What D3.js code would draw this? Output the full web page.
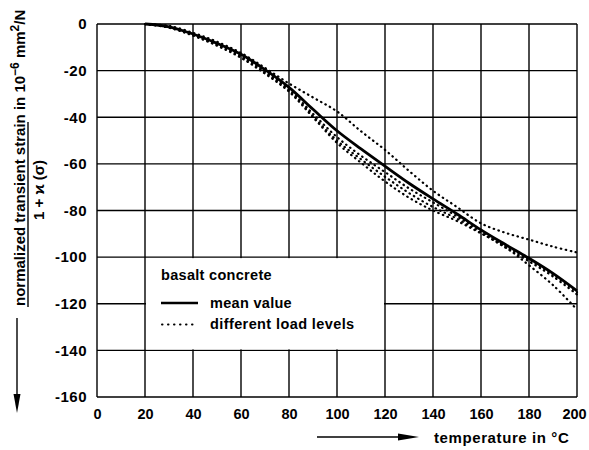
<!DOCTYPE html>
<html>
<head>
<meta charset="utf-8">
<script src="https://cdn.jsdelivr.net/npm/d3@7"></script>
<style>
  html, body { margin: 0; padding: 0; background: #fff; }
  text { font-family: "Liberation Sans", Arial, sans-serif; font-weight: bold; fill: #000; }
</style>
</head>
<body>
<svg id="chart" width="589" height="450"></svg>
<script>
// ---- data ----
const temps       = [20, 30, 40, 50, 60, 70, 80, 90, 100, 110, 120, 130, 140, 150, 160, 170, 180, 190, 200];
const meanValue   = [0, -1.2, -4.3, -8.3, -13, -19.6, -27.2, -36.6, -45.8, -53.6, -61, -68.3, -75, -81.5, -88.3, -94.5, -100.5, -107, -114.5];
const loadLevelA  = [0, -0.8, -3.8, -7.6, -12.4, -18.8, -25.5, -31.5, -37.5, -46, -54, -63, -71.5, -78.5, -85.5, -89.5, -92.5, -95.5, -98];
const loadLevelB  = [0, -1.3, -4.6, -8.7, -13.6, -20.3, -28, -38.5, -48.5, -56.5, -63.5, -70.5, -76.5, -82.5, -88.8, -95.5, -103.5, -112, -122.5];
const loadLevelC  = [0, -1.5, -4.8, -9, -14, -20.8, -28.5, -39.5, -50, -58, -65.5, -72.5, -78.5, -83.5, -89.5, -95.8, -101.8, -108.3, -116];
const loadLevelD  = [0, -1.6, -5, -9.3, -14.5, -21.3, -29, -40, -51, -59.5, -67.5, -74.5, -80, -84.5, -89.8, -95.2, -101, -107.5, -115];
const xTicks      = [0, 20, 40, 60, 80, 100, 120, 140, 160, 180, 200];
const yTicks      = [0, -20, -40, -60, -80, -100, -120, -140, -160];
const legendTitle = "basalt concrete";
const legendMean  = "mean value";
const legendLoad  = "different load levels";
const xTitle      = "temperature in °C";

// ---- layout ----
const svg = d3.select("#chart");
const x = d3.scaleLinear().domain([0, 200]).range([97, 577]);
const y = d3.scaleLinear().domain([0, -160]).range([24, 397]);

// grid
const grid = svg.append("g").attr("stroke", "#000").attr("stroke-width", 1.4);
grid.selectAll("line.v").data(xTicks).join("line")
  .attr("x1", d => x(d)).attr("x2", d => x(d))
  .attr("y1", y(0)).attr("y2", y(-160));
grid.selectAll("line.h").data(yTicks).join("line")
  .attr("x1", x(0)).attr("x2", x(200))
  .attr("y1", d => y(d)).attr("y2", d => y(d));

// legend box (blank area inside grid)
svg.append("rect")
  .attr("x", x(20) + 1).attr("y", y(-100) + 1)
  .attr("width", x(120) - x(20) - 2).attr("height", y(-140) - y(-100) - 2)
  .attr("fill", "#fff");

// axes labels
const styleTicks = (size, ls) => g => g.selectAll("text").attr("font-size", size).attr("letter-spacing", ls)
  .attr("font-family", "Liberation Sans").attr("font-weight", "bold").attr("fill", "#000");
const yAxis = d3.axisLeft(y).tickValues(yTicks).tickSize(0).tickPadding(10)
  .tickFormat(d => d === 0 ? "0" : "-" + Math.abs(d));
svg.append("g").attr("transform", `translate(${x(0)},0)`).call(yAxis)
  .call(g => g.select(".domain").remove())
  .call(styleTicks(15, 0.5));

const xAxis = d3.axisBottom(x).tickValues(xTicks).tickSize(0).tickPadding(12).tickFormat(d3.format("d"));
svg.append("g").attr("transform", `translate(0,${y(-160)})`).call(xAxis)
  .call(g => g.select(".domain").remove())
  .call(styleTicks(14.5, 0))
  .call(g => g.selectAll(".tick").filter(d => d === 200).select("text").attr("dx", -3));

// curves
const line = d3.line().x(d => x(d[0])).y(d => y(d[1])).curve(d3.curveCatmullRom.alpha(0.5));
const dotted = [loadLevelA, loadLevelB, loadLevelC, loadLevelD];
svg.append("g").selectAll("path").data(dotted).join("path")
  .attr("d", s => line(temps.map((t, i) => [t, s[i]])))
  .attr("fill", "none").attr("stroke", "#000").attr("stroke-width", 2.2)
  .attr("stroke-linecap", "round").attr("stroke-dasharray", "0.5,4.5");
svg.append("path")
  .attr("d", line(temps.map((t, i) => [t, meanValue[i]])))
  .attr("fill", "none").attr("stroke", "#000").attr("stroke-width", 2.8);

// legend
svg.append("text").attr("x", 161).attr("y", 280).attr("font-size", 14.5).attr("letter-spacing", 0.3).text(legendTitle);
svg.append("line").attr("x1", 161).attr("x2", 198).attr("y1", 303).attr("y2", 303)
  .attr("stroke", "#000").attr("stroke-width", 2.4);
svg.append("text").attr("x", 210).attr("y", 308).attr("font-size", 14.5).attr("letter-spacing", 0.3).text(legendMean);
svg.append("line").attr("x1", 162).attr("x2", 198).attr("y1", 324.5).attr("y2", 324.5)
  .attr("stroke", "#000").attr("stroke-width", 2).attr("stroke-linecap", "round")
  .attr("stroke-dasharray", "0.5,5.5");
svg.append("text").attr("x", 210).attr("y", 329).attr("font-size", 14.5).attr("letter-spacing", 0.4).text(legendLoad);

// x title with arrow
svg.append("line").attr("x1", 317).attr("x2", 410).attr("y1", 437).attr("y2", 437)
  .attr("stroke", "#000").attr("stroke-width", 1.4);
svg.append("path").attr("d", "M398,433.5 L419,437 L398,440.5 Z").attr("fill", "#000");
svg.append("text").attr("x", 434).attr("y", 443).attr("font-size", 15).attr("letter-spacing", 0.6).text(xTitle);

// y title (rotated)
const yt = svg.append("text").attr("transform", "translate(25,306) rotate(-90)")
  .attr("font-size", 15);
yt.append("tspan").text("normalized transient strain in 10");
yt.append("tspan").attr("dy", -6).attr("font-size", 12).text("−6");
yt.append("tspan").attr("dy", 6).text(" mm");
yt.append("tspan").attr("dy", -6).attr("font-size", 12).text("2");
yt.append("tspan").attr("dy", 6).text("/N");
svg.append("line").attr("x1", 28).attr("x2", 28).attr("y1", 122).attr("y2", 307)
  .attr("stroke", "#000").attr("stroke-width", 1.4);
svg.append("text").attr("transform", "translate(44,220) rotate(-90)")
  .attr("font-size", 15).text("1 + ϰ (σ)");
// down arrow
svg.append("line").attr("x1", 17).attr("x2", 17).attr("y1", 318).attr("y2", 400)
  .attr("stroke", "#000").attr("stroke-width", 1.4);
svg.append("path").attr("d", "M13.5,394 L17,413 L20.5,394 Z").attr("fill", "#000");
</script>
</body>
</html>
